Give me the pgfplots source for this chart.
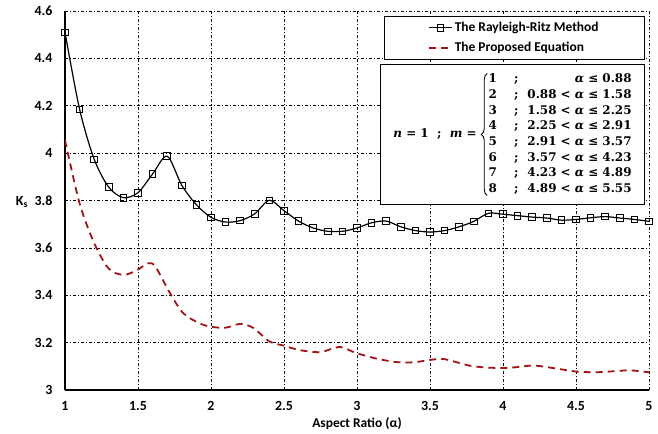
\documentclass[border=0pt]{standalone}
\usepackage{pgfplots}
\pgfplotsset{compat=1.18}
\usetikzlibrary{decorations.pathreplacing}
\usepackage{fontspec}
\setmainfont{Carlito}
\newfontfamily\mser{DejaVu Serif}
\definecolor{dred}{RGB}{160,20,20}
\newsavebox\tabbox
\newsavebox\casesbox
\newcommand\vi[1]{\textit{#1}}
\begin{document}
\sbox\tabbox{\mser\bfseries\fontsize{12}{15.7}\selectfont\begin{tabular}{@{}l@{\hspace{17bp}}c@{\hspace{9bp}}r@{}}
1 & ; & \vi{α} ≤ 0.88\\
2 & ; & 0.88 < \vi{α} ≤ 1.58\\
3 & ; & 1.58 < \vi{α} ≤ 2.25\\
4 & ; & 2.25 < \vi{α} ≤ 2.91\\
5 & ; & 2.91 < \vi{α} ≤ 3.57\\
6 & ; & 3.57 < \vi{α} ≤ 4.23\\
7 & ; & 4.23 < \vi{α} ≤ 4.89\\
8 & ; & 4.89 < \vi{α} ≤ 5.55
\end{tabular}}%
\sbox\casesbox{\mser\bfseries\fontsize{12}{15.7}\selectfont \vi{n} = 1\ \ ;\ \ \vi{m} = $\vcenter{\hbox{\tikz{\draw[line width=0.9bp, decorate, decoration={brace, amplitude=6bp, aspect=0.5}] (0,0) -- (0,122bp);}}}$\hspace{1bp}$\vcenter{\hbox{\usebox\tabbox}}$}%
\begin{tikzpicture}
\begin{axis}[
  scale only axis,
  width=584bp, height=379bp,
  xmin=1, xmax=5, ymin=3, ymax=4.6,
  xtick={1,1.5,...,5}, ytick={3,3.2,...,4.6},
  xticklabels={1,1.5,2,2.5,3,3.5,4,4.5,5},
  yticklabels={3,3.2,3.4,3.6,3.8,4,4.2,4.4,4.6},
  axis x line*=bottom, axis y line*=left,
  axis line style={line width=1.6bp,-},
  major tick length=0pt,
  grid=major,
  major grid style={dash pattern=on 3bp off 2bp on 1bp off 2bp, black, line width=0.6bp},
  tick label style={font=\bfseries\fontsize{14}{16}\selectfont},
  /pgf/number format/assume math mode=true,
  xticklabel style={yshift=-8bp},
  yticklabel style={xshift=-9bp},
  xlabel={Aspect Ratio (α)},
  ylabel={K\textsubscript{s}},
  every axis x label/.style={at={(rel axis cs:0.5,0)}, anchor=center, yshift=-34bp, font=\bfseries\fontsize{13.5}{16}\selectfont},
  every axis y label/.style={at={(rel axis cs:0,0.497)}, anchor=center, xshift=-43bp, font=\bfseries\fontsize{14}{16}\selectfont},
  legend style={at={(1,1)}, anchor=north east, xshift=-4bp, yshift=-5bp, draw=black, line width=0.8bp,
    font=\bfseries\fontsize{13.5}{16}\selectfont, inner xsep=44bp, inner ysep=4bp, row sep=5bp},
  legend cell align=left,
  legend image code/.code={\draw[mark repeat=2,mark phase=2,#1] plot coordinates {(0bp,0bp) (11.5bp,0bp) (23bp,0bp)};},
]
\addplot[black, line width=1.2bp, smooth, mark=square, mark size=3.3bp, mark options={solid, line width=0.9bp, fill=none}] coordinates {
(1.0,4.51) (1.1,4.185) (1.2,3.974) (1.3,3.856) (1.4,3.812) (1.5,3.833) (1.6,3.912) (1.7,3.987) (1.8,3.864) (1.9,3.782)
(2.0,3.729) (2.1,3.709) (2.2,3.715) (2.3,3.744) (2.4,3.801) (2.5,3.757) (2.6,3.713) (2.7,3.684) (2.8,3.670) (2.9,3.670)
(3.0,3.684) (3.1,3.706) (3.2,3.713) (3.3,3.689) (3.4,3.673) (3.5,3.667) (3.6,3.673) (3.7,3.689) (3.8,3.712) (3.9,3.746)
(4.0,3.742) (4.1,3.736) (4.2,3.730) (4.3,3.726) (4.4,3.717) (4.5,3.720) (4.6,3.727) (4.7,3.732) (4.8,3.726) (4.9,3.720) (5.0,3.712)
};
\addlegendentry{The Rayleigh-Ritz Method}
\addplot[dred, line width=1.8bp, smooth, dash pattern=on 7bp off 5bp] coordinates {
(1.00,4.055) (1.10,3.788) (1.20,3.62) (1.30,3.512) (1.40,3.486) (1.49,3.505) (1.57,3.535) (1.62,3.52) (1.72,3.408)
(1.81,3.324) (1.92,3.282) (2.00,3.267) (2.10,3.263) (2.20,3.279) (2.29,3.262) (2.40,3.205) (2.50,3.187) (2.61,3.168)
(2.75,3.160) (2.88,3.182) (2.99,3.157) (3.13,3.133) (3.27,3.118) (3.39,3.117) (3.50,3.127) (3.60,3.130) (3.77,3.103)
(3.91,3.094) (4.05,3.094) (4.21,3.103) (4.37,3.090) (4.50,3.078) (4.64,3.075) (4.78,3.080) (4.87,3.083) (5.00,3.075)
};
\addlegendentry{The Proposed Equation}
\node[draw=black, line width=0.8bp, fill=white, anchor=north east, minimum width=264bp, minimum height=140bp, inner sep=0pt]
  at (rel axis cs:0.993,0.860) {\usebox\casesbox};
\end{axis}
\pgfresetboundingbox
\path[use as bounding box] (-65bp,-44bp) rectangle (593bp,390bp);
\end{tikzpicture}
\end{document}
